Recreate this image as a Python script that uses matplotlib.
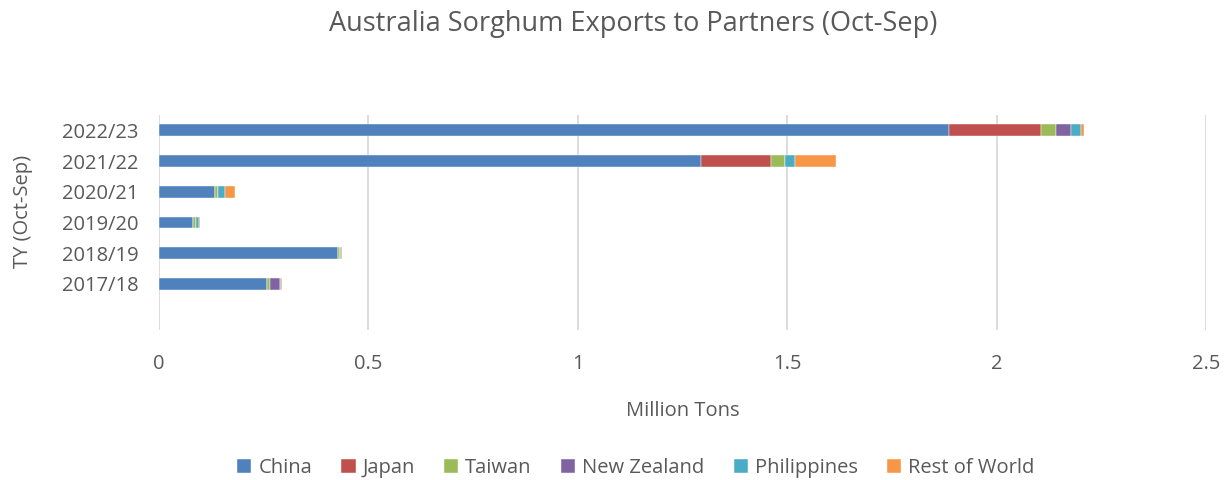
import matplotlib.pyplot as plt
import numpy as np

years = ["2017/18", "2018/19", "2019/20", "2020/21", "2021/22", "2022/23"]
partners = ["China", "Japan", "Taiwan", "New Zealand", "Philippines", "Rest of World"]
colors = ["#4F81BD", "#C0504D", "#9BBB59", "#8064A2", "#4BACC6", "#F79646"]

# million tons, per marketing year (Oct-Sep)
china = [0.258, 0.427, 0.081, 0.134, 1.294, 1.886]
japan = [0.0, 0.0, 0.0, 0.0, 0.167, 0.219]
taiwan = [0.007, 0.005, 0.007, 0.006, 0.034, 0.037]
new_zealand = [0.024, 0.0, 0.0, 0.0, 0.0, 0.035]
philippines = [0.002, 0.003, 0.008, 0.017, 0.024, 0.024]
rest_of_world = [0.003, 0.003, 0.001, 0.024, 0.098, 0.008]

series = [china, japan, taiwan, new_zealand, philippines, rest_of_world]

plt.rcParams["font.family"] = ["Open Sans", "DejaVu Sans"]
text_color = "#595959"

fig = plt.figure(figsize=(12.3, 4.8), dpi=100)
ax = fig.add_axes([159 / 1230, 1 - 330 / 480, (1206 - 159) / 1230, 215 / 480])

y = np.arange(len(years))
left = np.zeros(len(years))
for name, vals, c in zip(partners, series, colors):
    ax.barh(y, vals, left=left, height=0.39, color=c, label=name,
            edgecolor="white", linewidth=0.3)
    left += np.array(vals)

ax.set_xlim(0, 2.5)
ax.set_ylim(-1.5, 5.5)
ax.set_xticks([0, 0.5, 1, 1.5, 2, 2.5])
ax.set_xticklabels(["0", "0.5", "1", "1.5", "2", "2.5"])
ax.set_yticks(y)
ax.set_yticklabels(years)
ax.grid(axis="x", color="#D9D9D9", linewidth=1.3)
ax.set_axisbelow(True)
for s in ax.spines.values():
    s.set_visible(False)
ax.tick_params(length=0, labelsize=14.5, colors=text_color)
ax.tick_params(axis="y", pad=15)
ax.tick_params(axis="x", pad=17)

ax.set_xlabel("Million Tons", fontsize=14.5, color=text_color)
ax.xaxis.set_label_coords(0.5, -0.33)
ax.set_ylabel("TY (Oct-Sep)", fontsize=14.5, color=text_color)
ax.yaxis.set_label_coords(-0.12, 0.55)

fig.text(0.515, 1 - 24 / 480, "Australia Sorghum Exports to Partners (Oct-Sep)",
         fontsize=19.5, color=text_color, ha="center", va="center")

fig.legend(loc="center", bbox_to_anchor=(0.517, 1 - 468 / 480), ncol=6, frameon=False,
           fontsize=14.5, handlelength=0.7, handleheight=0.7, handletextpad=0.35,
           columnspacing=1.45, labelcolor=text_color)

fig.savefig("out.png", dpi=100)
